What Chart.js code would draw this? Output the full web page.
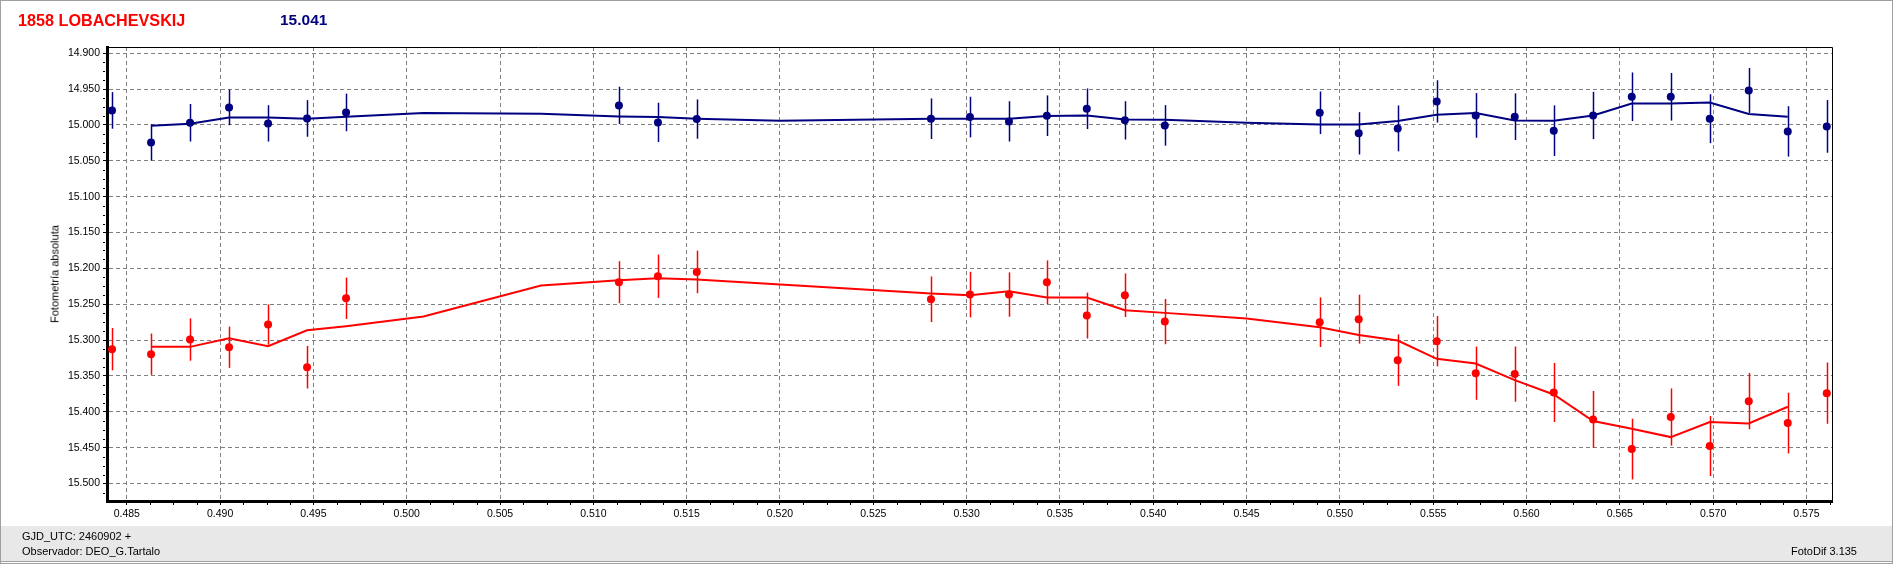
<!DOCTYPE html>
<html><head><meta charset="utf-8">
<script src="https://cdn.jsdelivr.net/npm/chart.js@4.4.0/dist/chart.umd.min.js"></script>
<style>
html,body{margin:0;padding:0;background:#fff;}
#wrap{position:relative;width:1893px;height:564px;overflow:hidden;font-family:"Liberation Sans",Arial,sans-serif;background:#fff;}
#footer{position:absolute;left:1px;top:526px;width:1891px;height:35px;background:#e8e8e8;border-bottom:1px solid #a0a0a0;}
#frame{position:absolute;left:0;top:0;width:1893px;height:564px;box-sizing:border-box;border:1px solid #a0a0a0;pointer-events:none;}
canvas{position:absolute;left:0;top:0;}
.t{position:absolute;white-space:nowrap;line-height:1;}
#title1{left:18px;top:12px;font-size:16.2px;font-weight:bold;color:#ff0000;}
#title2{left:280px;top:12px;font-size:15.5px;font-weight:bold;color:#000080;}
#ytitle{left:55px;top:274px;font-size:11px;color:#000;transform:translate(-50%,-50%) rotate(-90deg);}
#f1{left:22px;top:531px;font-size:11px;color:#000;}
#f2{left:22px;top:546px;font-size:11px;color:#000;}
#f3{right:36px;top:546px;font-size:11px;color:#000;}
</style></head>
<body>
<div id="wrap">
  <div id="footer"></div>
  <canvas id="c" width="1893" height="564"></canvas>
  <div class="t" id="title1">1858 LOBACHEVSKIJ</div>
  <div class="t" id="title2">15.041</div>
  <div class="t" id="ytitle">Fotometría absoluta</div>
  <div class="t" id="f1">GJD_UTC: 2460902 +</div>
  <div class="t" id="f2">Observador: DEO_G.Tartalo</div>
  <div class="t" id="f3">FotoDif 3.135</div>
  <div id="frame"></div>
</div>
<script>
// ---- data ----
const xTickLabels = ['0.485','0.490','0.495','0.500','0.505','0.510','0.515','0.520','0.525','0.530','0.535','0.540','0.545','0.550','0.555','0.560','0.565','0.570','0.575'];
const yTickLabels = ['14.900','14.950','15.000','15.050','15.100','15.150','15.200','15.250','15.300','15.350','15.400','15.450','15.500'];

const obsX = [0.48421,0.48630,0.48839,0.49048,0.49257,0.49466,0.49675,0.51137,0.51346,0.51554,0.52809,0.53018,0.53227,0.53430,0.53644,0.53848,0.54062,0.54892,0.55101,0.55310,0.55519,0.55728,0.55937,0.56146,0.56357,0.56564,0.56773,0.56982,0.57191,0.57400,0.57609];

const blueY = [14.9797,15.0243,14.9969,14.9755,14.9978,14.9909,14.9825,14.9727,14.9964,14.9918,14.9913,14.9890,14.9950,14.9871,14.9774,14.9936,15.0006,14.9830,15.0117,15.0048,14.9672,14.9867,14.9885,15.0080,14.9867,14.9607,14.9607,14.9913,14.9519,15.0090,15.0020];
const blueErr = [0.0255,0.0253,0.0262,0.0248,0.0253,0.0255,0.0262,0.0260,0.0274,0.0274,0.0283,0.0283,0.0281,0.0283,0.0283,0.0267,0.0283,0.0297,0.0295,0.0320,0.0295,0.0311,0.0325,0.0353,0.0330,0.0339,0.0332,0.0341,0.0313,0.0351,0.0367];

const redY = [15.3126,15.3196,15.2992,15.3099,15.2783,15.3377,15.2416,15.2193,15.2109,15.2049,15.2430,15.2365,15.2365,15.2193,15.2657,15.2374,15.2741,15.2750,15.2708,15.3279,15.3015,15.3461,15.3474,15.3730,15.4106,15.4519,15.4073,15.4477,15.3851,15.4157,15.3739];
const redErr = [0.0295,0.0288,0.0295,0.0288,0.0281,0.0297,0.0288,0.0293,0.0302,0.0297,0.0318,0.0318,0.0309,0.0304,0.0320,0.0304,0.0316,0.0346,0.0341,0.0358,0.0351,0.0371,0.0385,0.0411,0.0397,0.0423,0.0399,0.0418,0.0392,0.0423,0.0427];

const blueFitX = [0.48630,0.48839,0.49048,0.49257,0.49466,0.49675,0.5009,0.5072,0.51137,0.51346,0.51554,0.5200,0.52809,0.53018,0.53227,0.53430,0.53644,0.53848,0.54062,0.5450,0.54892,0.55101,0.55310,0.55519,0.55728,0.55937,0.56146,0.56357,0.56564,0.56773,0.56982,0.57191,0.57400];
const blueFitY = [15.0011,14.9983,14.9895,14.9895,14.9913,14.9885,14.9834,14.9844,14.9881,14.9890,14.9913,14.9941,14.9913,14.9913,14.9913,14.9876,14.9867,14.9923,14.9927,14.9969,14.9992,14.9992,14.9946,14.9858,14.9834,14.9937,14.9941,14.9867,14.9700,14.9700,14.9686,14.9848,14.9885];

const redFitX = [0.48630,0.48839,0.49048,0.49257,0.49466,0.49675,0.5009,0.5072,0.51137,0.51346,0.51554,0.52809,0.53018,0.53227,0.53430,0.53644,0.53848,0.54062,0.5450,0.54892,0.55101,0.55310,0.55519,0.55728,0.55937,0.56146,0.56357,0.56564,0.56773,0.56982,0.57191,0.57400];
const redFitY = [15.3094,15.3094,15.2973,15.3084,15.2862,15.2806,15.2671,15.2239,15.2165,15.2137,15.2156,15.2351,15.2374,15.2318,15.2407,15.2407,15.2583,15.2620,15.2699,15.2820,15.2927,15.3006,15.3261,15.3326,15.3558,15.3758,15.4129,15.4236,15.4352,15.4143,15.4162,15.3929];

const NAVY = '#000080', RED = '#ff0000';
const pts = (xs, ys) => xs.map((x, i) => ({x: x, y: ys[i]}));

// error bars drawn through the scales
const errorBars = {
  id: 'errorBars',
  beforeDatasetDraw(chart, args) {
    const ds = chart.data.datasets[args.index];
    if (!ds.errors) return;
    const xs = chart.scales.x, ys = chart.scales.y, ctx = chart.ctx;
    ctx.save();
    ctx.strokeStyle = ds.backgroundColor;
    ctx.lineWidth = 1.5;
    ds.data.forEach((p, i) => {
      const px = Math.round(xs.getPixelForValue(p.x)) + 0.5;
      ctx.beginPath();
      ctx.moveTo(px, ys.getPixelForValue(p.y - ds.errors[i]));
      ctx.lineTo(px, ys.getPixelForValue(p.y + ds.errors[i]));
      ctx.stroke();
    });
    ctx.restore();
  }
};

// frame (top/right) and minor ticks
const frameAndMinor = {
  id: 'frameAndMinor',
  afterDraw(chart) {
    const {ctx, chartArea: a, scales: {x, y}} = chart;
    ctx.save();
    ctx.strokeStyle = '#000';
    ctx.lineWidth = 1;
    ctx.beginPath();
    ctx.moveTo(a.left, a.top + 0.5); ctx.lineTo(a.right + 0.5, a.top + 0.5); ctx.lineTo(a.right + 0.5, a.bottom);
    ctx.stroke();
    const sx = 0.00125;
    ctx.beginPath();
    for (let i = Math.ceil(x.min / sx); i <= Math.floor(x.max / sx); i++) {
      if (i % 4 === 0) continue;
      const px = Math.round(x.getPixelForValue(i * sx)) + 0.5;
      ctx.moveTo(px, a.bottom + 1); ctx.lineTo(px, a.bottom + 4);
    }
    const sy = 0.0125;
    for (let i = Math.ceil(y.min / sy); i <= Math.floor(y.max / sy); i++) {
      if (i % 4 === 0) continue;
      const py = Math.round(y.getPixelForValue(i * sy)) + 0.5;
      ctx.moveTo(a.left - 2, py); ctx.lineTo(a.left - 4, py);
    }
    ctx.stroke();
    ctx.restore();
  }
};

const gridCommon = {color: '#808080', lineWidth: 1, tickColor: '#000', tickLength: 4, drawTicks: true};
const tickFont = {family: '"Liberation Sans", Arial, sans-serif', size: 10.5};

new Chart(document.getElementById('c'), {
  type: 'scatter',
  data: {
    datasets: [
      {type: 'line', data: pts(blueFitX, blueFitY), borderColor: NAVY, borderWidth: 2, pointRadius: 0, tension: 0, fill: false, showLine: true},
      {type: 'line', data: pts(redFitX, redFitY), borderColor: RED, borderWidth: 2, pointRadius: 0, tension: 0, fill: false, showLine: true},
      {data: pts(obsX, blueY), errors: blueErr, backgroundColor: NAVY, borderColor: NAVY, pointRadius: 4, borderWidth: 0, showLine: false},
      {data: pts(obsX, redY), errors: redErr, backgroundColor: RED, borderColor: RED, pointRadius: 4, borderWidth: 0, showLine: false}
    ]
  },
  options: {
    responsive: false,
    animation: false,
    devicePixelRatio: 1,
    layout: {padding: {left: 0, right: 61, top: 47, bottom: 38}},
    plugins: {legend: {display: false}, tooltip: {enabled: false}, title: {display: false}},
    scales: {
      x: {
        type: 'linear', min: 0.48394, max: 0.57637,
        afterBuildTicks: s => { s.ticks = xTickLabels.map(t => ({value: parseFloat(t)})); },
        afterFit: s => { s.height = 25; },
        ticks: {callback: v => v.toFixed(3), color: '#000', font: tickFont, padding: 3, maxRotation: 0, autoSkip: false},
        grid: gridCommon,
        border: {display: true, color: '#000', width: 3, dash: [4, 3]}
      },
      y: {
        type: 'linear', reverse: true, min: 14.8913, max: 15.5243,
        afterBuildTicks: s => { s.ticks = yTickLabels.map(t => ({value: parseFloat(t)})); },
        afterFit: s => { s.width = 107; },
        ticks: {callback: v => v.toFixed(3), color: '#000', font: tickFont, padding: 3, autoSkip: false},
        grid: gridCommon,
        border: {display: true, color: '#000', width: 3, dash: [4, 3]}
      }
    }
  },
  plugins: [errorBars, frameAndMinor]
});
</script>
</body></html>
